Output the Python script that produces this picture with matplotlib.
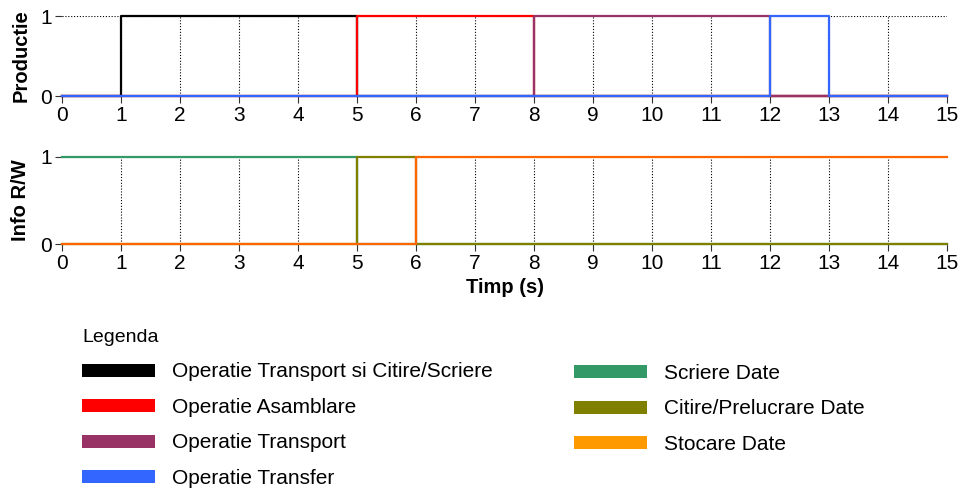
import matplotlib
matplotlib.use("Agg")
import matplotlib.pyplot as plt
from matplotlib.patches import Patch

plt.rcParams['font.family'] = ['Liberation Sans', 'DejaVu Sans']

# time grid (s) and step values (value holds from t[i] to t[i+1])
t = list(range(16))

prod_labels = ["Operatie Transport si Citire/Scriere", "Operatie Asamblare",
               "Operatie Transport", "Operatie Transfer"]
transport_rw = [0, 1, 1, 1, 1, 0, 0, 0, 0, 0, 0, 0, 0, 0, 0, 0]
asamblare    = [0, 0, 0, 0, 0, 1, 1, 1, 0, 0, 0, 0, 0, 0, 0, 0]
transport    = [0, 0, 0, 0, 0, 0, 0, 0, 1, 1, 1, 1, 0, 0, 0, 0]
transfer     = [0, 0, 0, 0, 0, 0, 0, 0, 0, 0, 0, 0, 1, 0, 0, 0]
prod_series = [transport_rw, asamblare, transport, transfer]
prod_colors = ["#000000", "#ff0000", "#993366", "#3366ff"]

info_labels = ["Scriere Date", "Citire/Prelucrare Date", "Stocare Date"]
scriere  = [1, 1, 1, 1, 1, 0, 0, 0, 0, 0, 0, 0, 0, 0, 0, 0]
citire   = [0, 0, 0, 0, 0, 1, 0, 0, 0, 0, 0, 0, 0, 0, 0, 0]
stocare  = [0, 0, 0, 0, 0, 0, 1, 1, 1, 1, 1, 1, 1, 1, 1, 1]
info_series = [scriere, citire, stocare]
info_colors = ["#339966", "#808000", "#ff6600"]
info_legend_colors = ["#339966", "#808000", "#ff9900"]

xticks = list(range(16))
yticks = [0, 1]

W, H = 959, 488
fig = plt.figure(figsize=(W / 100, H / 100), dpi=100)

def make_axes(top_px, bottom_px):
    left, right = 62, 947
    return fig.add_axes([left / W, 1 - bottom_px / H, (right - left) / W,
                         (bottom_px - top_px) / H])

ax1 = make_axes(16, 96)
ax2 = make_axes(157, 244)

def style(ax, ylabel):
    ax.set_xlim(0, 15)
    ax.set_ylim(0, 1)
    ax.set_xticks(xticks)
    ax.set_yticks(yticks)
    for s in ax.spines.values():
        s.set_visible(False)
    ax.tick_params(axis='both', labelsize=15, length=5, width=0.8,
                   color='#333333', direction='out', pad=2.5)
    ax.grid(True, linestyle=(0, (1, 1.6)), linewidth=0.8, color='black')
    gl = ax.xaxis.get_gridlines()
    gl[0].set_visible(False)
    gl[-1].set_visible(False)
    ax.set_ylabel(ylabel, fontsize=14.5, fontweight='bold')
    ax.set_axisbelow(True)

style(ax1, "Productie")
style(ax2, "Info R/W")
ax2.set_xlabel("Timp (s)", fontsize=14.5, fontweight='bold', labelpad=3)

for vals, c in zip(prod_series, prod_colors):
    ax1.step(t, vals, where='post', color=c, lw=1.6, clip_on=False)
for vals, c in zip(info_series, info_colors):
    ax2.step(t, vals, where='post', color=c, lw=1.6, clip_on=False)

ax1.yaxis.set_label_coords(-0.036, 0.5)
ax2.yaxis.set_label_coords(-0.036, 0.5)

h1 = [Patch(facecolor=c, edgecolor='none', label=l) for c, l in zip(prod_colors, prod_labels)]
h2 = [Patch(facecolor=c, edgecolor='none', label=l) for c, l in zip(info_legend_colors, info_labels)]

common = dict(frameon=False, fontsize=15, handlelength=3.5, handleheight=0.58,
              handletextpad=0.8, labelspacing=0.79, borderpad=0, borderaxespad=0,
              loc='upper left')
leg1 = fig.legend(handles=h1, title="Legenda", title_fontsize=14,
                  bbox_to_anchor=(82 / W, 1 - 329 / H), alignment='left', **common)
leg2 = fig.legend(handles=h2, bbox_to_anchor=(574 / W, 1 - 364 / H), **common)

fig.savefig("out.png", dpi=100)
